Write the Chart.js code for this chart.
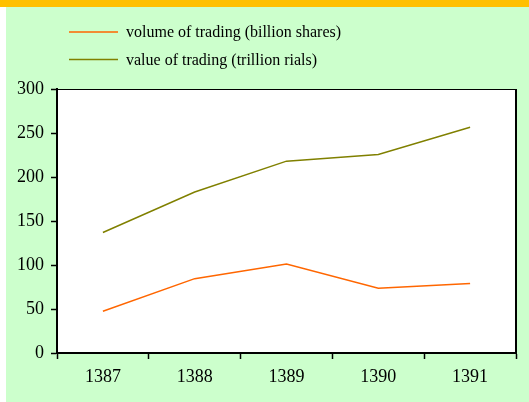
<!DOCTYPE html>
<html><head><meta charset="utf-8">
<script src="https://cdn.jsdelivr.net/npm/chart.js@4"></script>
<style>html,body{margin:0;padding:0;background:#fff}#c{display:block}</style>
</head><body>
<canvas id="c" width="529" height="402"></canvas>
<script>
const years = ['1387','1388','1389','1390','1391'];
const volumeOfTrading = [47.5, 84.5, 101, 73.5, 79];
const valueOfTrading = [137, 183, 218, 225.5, 256.5];
const seriesLabels = ['volume of trading (billion shares)', 'value of trading (trillion rials)'];
const yTicks = [0, 50, 100, 150, 200, 250, 300];

const FONT = "'Liberation Serif', 'Times New Roman', serif";

const bgPlugin = {
  id: 'bg',
  beforeDraw(chart) {
    const {ctx, chartArea: a, width, height} = chart;
    ctx.save();
    ctx.fillStyle = '#ffffff';
    ctx.fillRect(0, 0, width, height);
    ctx.fillStyle = '#CCFFCC';
    ctx.fillRect(6, 7, width - 6, height - 7);
    ctx.fillStyle = '#FFC000';
    ctx.fillRect(0, 0, width, 7);
    ctx.fillStyle = '#ffffff';
    ctx.fillRect(a.left, a.top, a.right - a.left, a.bottom - a.top);
    ctx.restore();
  },
  afterDraw(chart) {
    const {ctx, chartArea: a} = chart;
    ctx.save();
    ctx.strokeStyle = '#000';
    ctx.lineWidth = 1;
    ctx.beginPath();
    ctx.moveTo(a.left, a.top + 0.5);
    ctx.lineTo(a.right, a.top + 0.5);
    ctx.stroke();
    ctx.lineWidth = 2;
    ctx.beginPath();
    ctx.moveTo(a.right, a.top);
    ctx.lineTo(a.right, a.bottom);
    ctx.stroke();
    // legend
    ctx.font = '16px ' + FONT;
    ctx.textBaseline = 'middle';
    ctx.textAlign = 'left';
    chart.data.datasets.forEach((ds, i) => {
      const y = 32 + i * 27.5;
      ctx.strokeStyle = ds.borderColor;
      ctx.lineWidth = 1.5;
      ctx.beginPath();
      ctx.moveTo(69, y);
      ctx.lineTo(118, y);
      ctx.stroke();
      ctx.fillStyle = '#000';
      ctx.fillText(ds.label, 126, y + 1);
    });
    ctx.restore();
  }
};

new Chart(document.getElementById('c'), {
  type: 'line',
  data: {
    labels: years,
    datasets: [
      {label: seriesLabels[0], data: volumeOfTrading, borderColor: '#FF6600', borderWidth: 1.5, pointRadius: 0, tension: 0},
      {label: seriesLabels[1], data: valueOfTrading, borderColor: '#808000', borderWidth: 1.5, pointRadius: 0, tension: 0}
    ]
  },
  options: {
    responsive: false,
    animation: false,
    layout: {padding: {top: 89, right: 13, left: 0, bottom: 0}},
    plugins: {legend: {display: false}, tooltip: {enabled: false}},
    scales: {
      x: {
        offset: true,
        grid: {offset: true, drawOnChartArea: false, tickLength: 6, tickColor: '#000', tickWidth: 1.5},
        border: {color: '#000', width: 2},
        ticks: {color: '#000', font: {family: FONT, size: 18}, padding: 7, maxRotation: 0},
        afterFit(s) { s.height = 49; }
      },
      y: {
        min: 0, max: 300,
        afterBuildTicks(s) { s.ticks = yTicks.map(v => ({value: v})); },
        grid: {drawOnChartArea: false, tickLength: 6, tickColor: '#000', tickWidth: 1.5},
        border: {color: '#000', width: 2},
        ticks: {color: '#000', font: {family: FONT, size: 18}, padding: 7},
        afterFit(s) { s.width = 57; }
      }
    }
  },
  plugins: [bgPlugin]
});
</script>
</body></html>
